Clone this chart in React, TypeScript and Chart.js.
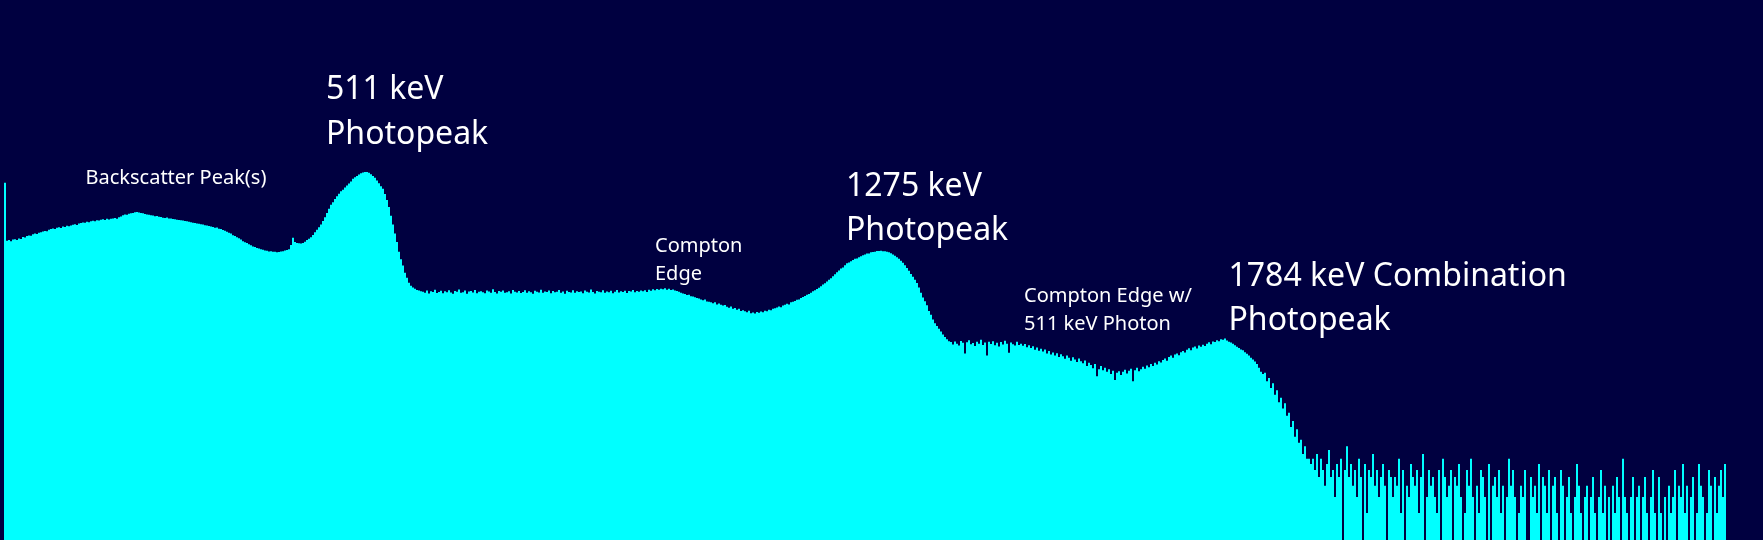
import React, { useEffect, useRef } from 'react';
import { Chart, registerables } from 'chart.js';

Chart.register(...registerables);

// Counts per channel (2 px per channel in the picture), log scale 1 .. 1e6
const lowEnergyCounts = [
  0, 0, 9300,
  2110, 2150, 2090, 2180, 2200, 2160, 2240, 2210,
  2330, 2290, 2380, 2420, 2400, 2490, 2540, 2510, 2600, 2630,
  2680, 2720, 2690, 2800, 2860, 2900, 2850, 2950, 2990, 2930,
  3050, 3010, 3100, 3060, 3130, 3180, 3230, 3170, 3290, 3320,
  3380, 3340, 3440, 3400, 3480, 3520, 3470, 3580, 3550, 3610,
  3660, 3590, 3700, 3650, 3720, 3740, 3780, 3700, 3850, 3920,
  4050, 4130, 4100, 4220, 4260, 4300, 4380, 4420, 4350, 4310,
  4260, 4200, 4150, 4120, 4070, 4020, 3960, 3990, 3900, 3870,
  3810, 3780, 3820, 3740, 3730, 3690, 3660, 3620, 3600, 3570,
  3540, 3500, 3470, 3430, 3390, 3350, 3330, 3290, 3260, 3230,
  3200, 3150, 3120, 3080, 3040, 3000, 2950, 2960, 2880, 2850,
  2790, 2730, 2660, 2600, 2540, 2440, 2390, 2310, 2250, 2180,
  2090, 2040, 1990, 1930, 1880, 1830, 1800, 1760, 1730, 1700,
  1680, 1650, 1640, 1610, 1620, 1590, 1600, 1570, 1580, 1610,
  1620, 1650, 1670, 1700, 1900, 2280, 2050, 2000, 1980, 1970,
  2000, 2060, 2150, 2230, 2310, 2450, 2620, 2800, 2990, 3200,
  3500, 3850, 4300, 4800, 5300, 5650, 6150, 6600, 7050, 7500,
  7800, 8250, 8700, 9150, 9600, 10300, 10700, 11100, 11500, 11900,
  12100, 12300, 12250, 12000, 11600, 11100, 10600, 9900, 9200, 8500,
  8000, 7000, 6000, 5000, 4000, 3200, 2550, 2050, 1600, 1320,
  1120, 930, 820, 720, 670, 640, 620, 600, 590, 580,
];

const comptonPlateauCounts = [
  575, 560, 590, 548, 582, 570, 603, 556, 571, 588,
  552, 579, 566, 597, 561, 545, 584, 572, 609, 558,
  567, 590, 543, 576, 585, 562, 598, 553, 574, 581,
  565, 550, 593, 577, 560, 611, 569, 547, 583, 572,
  590, 558, 566, 579, 548, 601, 574, 563, 586, 555,
  571, 596, 559, 582, 567, 544, 588, 575, 562, 604,
  557, 578, 569, 592, 551, 584, 566, 573, 599, 560,
  577, 546, 589, 571, 563, 595, 558, 581, 568, 576,
  553, 590, 572, 561, 606, 569, 548, 585, 574, 566,
  594, 559, 578, 565, 587, 552, 575, 600, 563, 580,
  570, 589, 556, 583, 577, 598, 566, 584, 572, 591,
  580, 596, 571, 603, 588, 610, 594, 615, 602, 620,
  612, 625, 604, 618, 598, 607, 590, 585, 572, 560,
];

const peak1275Counts = [
  548, 540, 527, 530, 512, 508, 497, 489, 482, 470,
  462, 470, 447, 443, 438, 428, 437, 415, 424, 410,
  402, 408, 390, 381, 394, 372, 378, 362, 370, 351,
  358, 347, 340, 352, 331, 338, 329, 342, 335, 346,
  339, 352, 348, 361, 356, 370, 375, 384, 392, 386,
  404, 410, 421, 415, 438, 444, 452, 466, 471, 488,
  500, 515, 532, 541, 560, 582, 596, 615, 637, 660,
  688, 714, 745, 781, 812, 850, 896, 942, 990, 1040,
  1068, 1130, 1190, 1210, 1248, 1290, 1335, 1340, 1390, 1425,
  1462, 1490, 1530, 1525, 1570, 1585, 1590, 1625, 1628, 1635,
  1618, 1620, 1590, 1572, 1532, 1490, 1440, 1390, 1330, 1270,
  1200, 1130, 1050, 980, 900, 840, 780, 715, 640, 560,
  495, 450, 405, 350, 318, 282, 256, 238, 222, 207,
  192, 180, 170, 162,
];

const peak1784Counts = [
  158, 149, 161, 152, 145, 163, 155, 118, 157, 166,
  150, 154, 143, 160, 152, 168, 147, 156, 112, 159,
  151, 162, 146, 155, 141, 158, 149, 164, 152, 120,
  156, 150, 145, 159, 147, 152,
  144, 151, 139, 146, 136, 142, 130, 138, 127, 133,
  124, 131, 118, 126, 115, 121, 112, 119, 108, 116,
  110, 103, 112, 106, 98, 107, 101, 95, 104, 97,
  92, 99, 86, 93, 88, 81, 90, 66, 79, 86,
  77, 82, 74, 79, 70, 76, 60, 72, 75, 68,
  74, 78, 71, 76, 80, 58, 77, 82, 75, 79,
  84, 80, 87, 83, 90, 86, 93, 89, 97, 94,
  100, 104, 98, 108, 112, 106, 115, 118, 113, 122,
  126, 121, 130, 135, 128, 138, 141, 134, 145, 140,
  148, 143, 152, 157, 150, 161, 158, 166, 162, 170,
  168, 173, 165, 160, 156, 152, 146, 140, 136, 131,
  128, 122, 117, 112, 106, 101, 96, 90, 82, 74,
  70, 72, 58, 63, 49, 55, 41, 46, 34, 38,
  29, 33, 24, 26, 18, 21, 14, 17, 12, 13,
  9, 11, 8, 8, 7,
];

const tailCounts = [
  8, 6, 9, 5, 8, 6, 4, 7, 10, 5, 6, 3, 7, 5, 8, 0, 6, 11, 5, 7,
  4, 6, 3, 8, 5, 1, 7, 2, 6, 5, 9, 4, 6, 3, 5, 7, 4, 0, 6, 5,
  3, 5, 4, 8, 2, 6, 0, 4, 3, 7, 5, 4, 6, 2, 5, 9, 1, 3, 6, 4,
  5, 3, 2, 6, 0, 8, 5, 3, 4, 6, 0, 5, 4, 7, 3, 1, 2, 6, 4, 8,
  3, 0, 4, 2, 6, 5, 3, 1, 7, 0, 4, 5, 3, 6, 2, 4, 0, 3, 8, 4,
  6, 3, 0, 2, 4, 3, 6, 1, 0, 5, 3, 4, 2, 7, 0, 5, 4, 2, 6, 1,
  4, 5, 2, 0, 6, 4, 1, 3, 5, 2, 0, 3, 7, 4, 2, 1, 3, 4, 0, 3,
  5, 2, 0, 3, 6, 2, 4, 1, 3, 0, 4, 2, 5, 3, 0, 8, 3, 2, 1, 3,
  5, 0, 3, 4, 1, 3, 5, 2, 0, 3, 6, 2, 1, 5, 2, 0, 3, 1, 4, 2,
  3, 6, 0, 4, 3, 7, 2, 4, 1, 3, 5, 0, 2, 7, 4, 3, 1, 2, 6, 4,
  0, 5, 2, 4, 6, 3, 7,
];

const emptyCounts = [0, 0, 0, 0, 0, 0, 0, 0, 0, 0, 0, 0, 0, 0, 0, 0, 0, 0];

const spectrumCounts = [
  ...lowEnergyCounts,
  ...comptonPlateauCounts,
  ...peak1275Counts,
  ...peak1784Counts,
  ...tailCounts,
  ...emptyCounts,
];
const channels = spectrumCounts.map((_, i) => String(i));

// Text notes, anchored in data units (channel, counts at first baseline)
const noteTexts = [
  ['Backscatter Peak(s)'],
  ['511 keV', 'Photopeak'],
  ['Compton', 'Edge'],
  ['1275 keV', 'Photopeak'],
  ['Compton Edge w/', '511 keV Photon'],
  ['1784 keV Combination', 'Photopeak'],
];
const noteChannels = [42.25, 162.5, 327, 422.5, 511.5, 613.75];
const noteCounts = [8960, 79430, 1573, 6690, 438, 669];
const noteKinds = ['minor', 'major', 'minor', 'major', 'minor', 'major'];

const NOTE_STYLE: Record<string, { size: number; lineHeight: number }> = {
  minor: { size: 20, lineHeight: 27.7 },
  major: { size: 32, lineHeight: 44.5 },
};

const BG = '#000040';
const BAR = '#00ffff';

const notesPlugin = {
  id: 'spectrumNotes',
  afterDatasetsDraw(chart: any) {
    const { ctx, scales } = chart;
    ctx.save();
    ctx.fillStyle = '#ffffff';
    ctx.textAlign = 'left';
    ctx.textBaseline = 'alphabetic';
    noteTexts.forEach((lines, k) => {
      const st = NOTE_STYLE[noteKinds[k]];
      ctx.font = `${st.size}px "Noto Sans"`;
      const x = scales.x.getPixelForValue(noteChannels[k]);
      const y = scales.y.getPixelForValue(noteCounts[k]);
      lines.forEach((t, i) => ctx.fillText(t, x, y + i * st.lineHeight));
    });
    ctx.restore();
  },
};

export default function App() {
  const canvasRef = useRef<HTMLCanvasElement | null>(null);

  useEffect(() => {
    const canvas = canvasRef.current;
    if (!canvas) return;
    const chart = new Chart(canvas, {
      type: 'bar',
      data: {
        labels: channels,
        datasets: [
          {
            data: spectrumCounts,
            backgroundColor: BAR,
            borderWidth: 0,
            barPercentage: 1,
            categoryPercentage: 1,
            inflateAmount: 0,
          } as any,
        ],
      },
      options: {
        animation: false,
        responsive: false,
        events: [],
        layout: { padding: 0 },
        plugins: {
          legend: { display: false },
          tooltip: { enabled: false },
        },
        scales: {
          x: { type: 'category', display: false, offset: true, grid: { display: false } },
          y: { type: 'logarithmic', display: false, min: 1, max: 1e6 },
        },
      },
      plugins: [notesPlugin],
    });
    return () => chart.destroy();
  }, []);

  return (
    <div
      style={{
        position: 'fixed',
        left: 0,
        top: 0,
        width: 1763,
        height: 540,
        background: BG,
        overflow: 'hidden',
      }}
    >
      <canvas ref={canvasRef} width={1762} height={540} style={{ display: 'block' }} />
    </div>
  );
}
